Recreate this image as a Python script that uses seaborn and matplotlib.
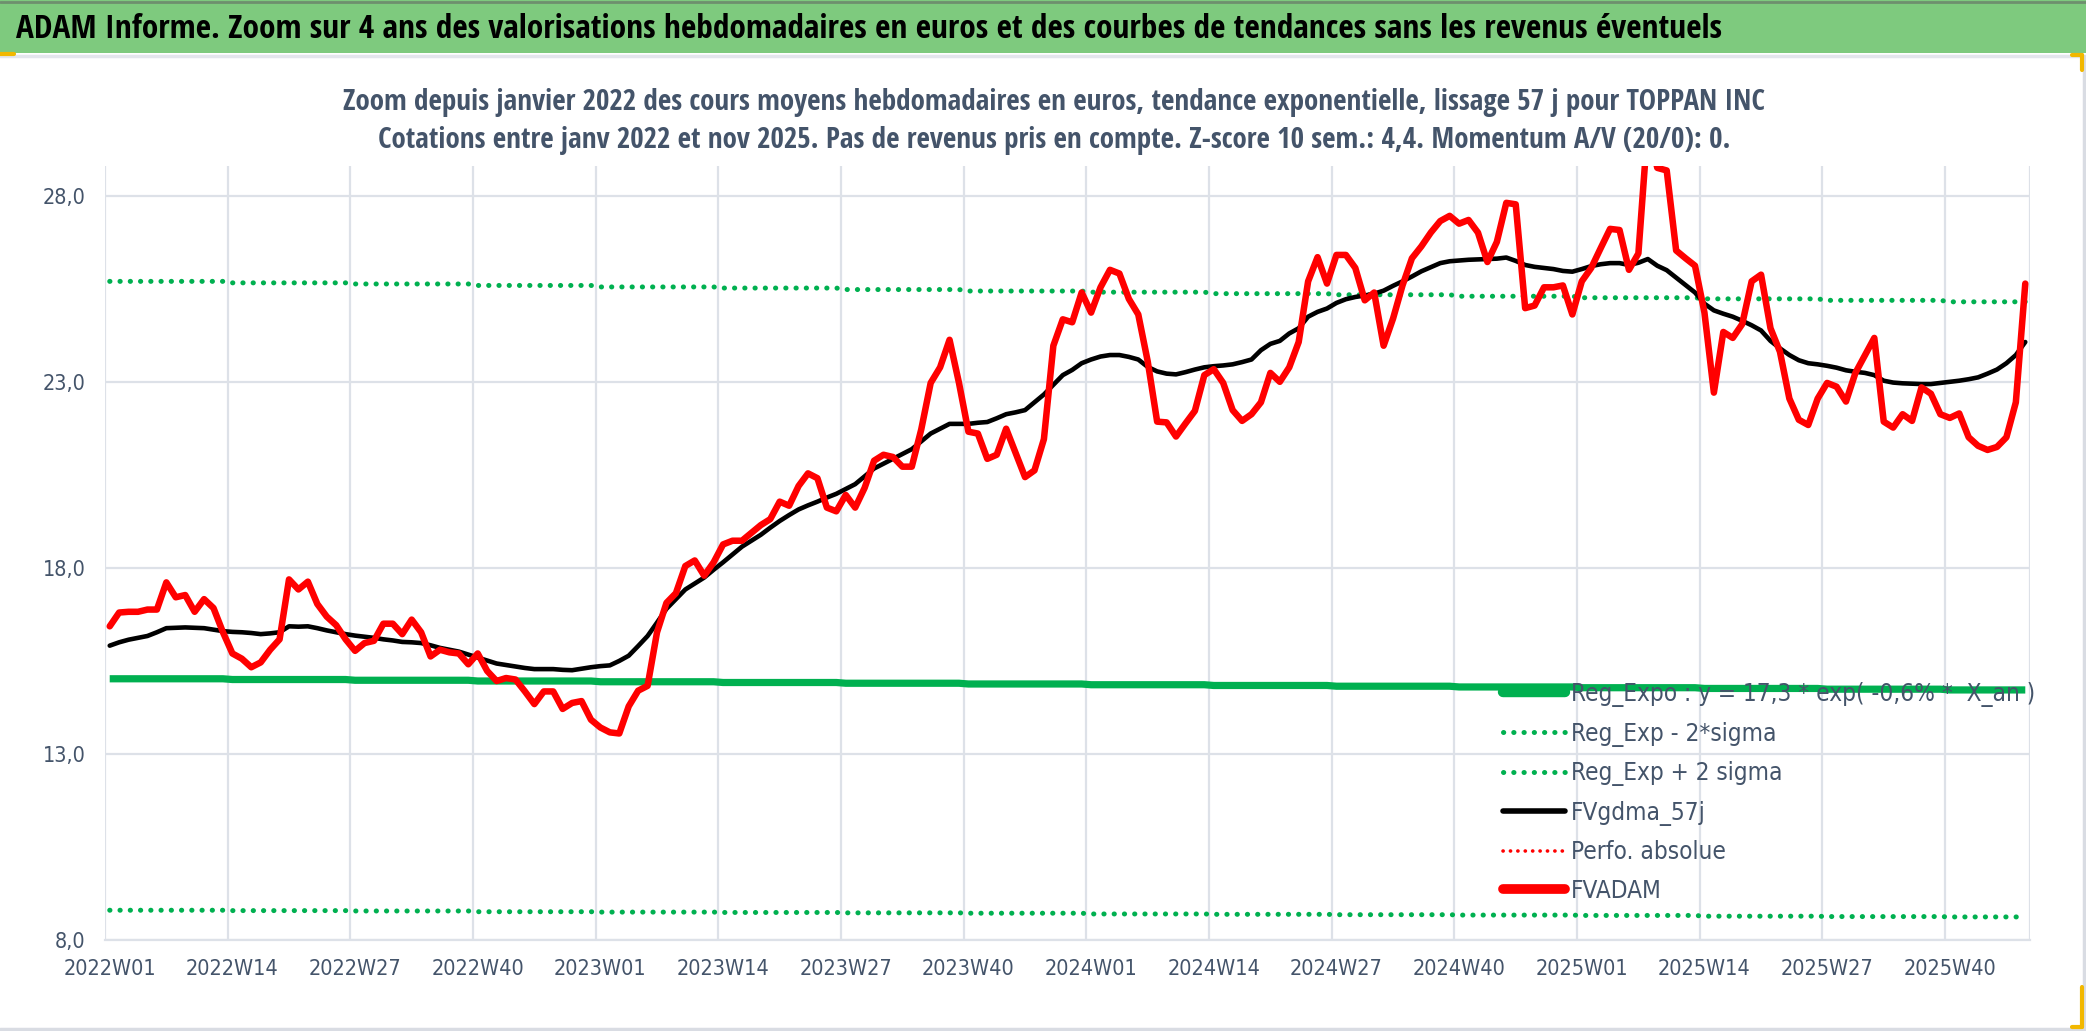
import numpy as np
import pandas as pd
import matplotlib
matplotlib.use("Agg")
import matplotlib.pyplot as plt
import matplotlib.font_manager as fm
from matplotlib.lines import Line2D
from matplotlib.patches import Rectangle
import seaborn as sns

# ---------------- data ----------------
years = [2022, 2023, 2024, 2025]
weeks_per_year = [52, 52, 52, 48]

fvadam = [
    16.43, 16.80, 16.82, 16.82, 16.88, 16.88, 17.61, 17.21, 17.27, 16.82,
    17.16, 16.92, 16.27, 15.70, 15.56, 15.33, 15.46, 15.80, 16.08, 17.69,
    17.42, 17.63, 17.03, 16.69, 16.46, 16.08, 15.77, 15.98, 16.04, 16.50,
    16.50, 16.22, 16.61, 16.27, 15.62, 15.80, 15.73, 15.70, 15.41, 15.70,
    15.23, 14.96, 15.04, 15.00, 14.68, 14.34, 14.68, 14.68, 14.21, 14.37,
    14.42, 13.92, 13.71, 13.58, 13.55, 14.28, 14.70, 14.83, 16.27, 17.06,
    17.32, 18.05, 18.20, 17.79, 18.15, 18.63, 18.73, 18.73, 18.94, 19.15,
    19.31, 19.78, 19.67, 20.20, 20.54, 20.41, 19.62, 19.52, 19.96, 19.62,
    20.15, 20.88, 21.04, 20.98, 20.72, 20.72, 21.72, 22.97, 23.39, 24.13,
    22.97, 21.66, 21.61, 20.93, 21.04, 21.74, 21.09, 20.44, 20.62, 21.46,
    23.97, 24.68, 24.60, 25.40, 24.86, 25.54, 26.01, 25.91, 25.23, 24.81,
    23.55, 21.93, 21.91, 21.53, 21.88, 22.22, 23.18, 23.34, 22.97, 22.24,
    21.95, 22.13, 22.45, 23.24, 23.00, 23.39, 24.07, 25.70, 26.35, 25.64,
    26.41, 26.41, 26.06, 25.19, 25.40, 23.97, 24.70, 25.59, 26.32, 26.64,
    27.01, 27.32, 27.46, 27.25, 27.35, 27.01, 26.22, 26.76, 27.81, 27.77,
    24.98, 25.05, 25.54, 25.54, 25.59, 24.81, 25.70, 26.06, 26.59, 27.11,
    27.08, 26.01, 26.45, 29.90, 28.75, 28.68, 26.53, 26.32, 26.12, 24.86,
    22.71, 24.34, 24.18, 24.55, 25.70, 25.88, 24.44, 23.81, 22.55, 21.98,
    21.84, 22.55, 22.97, 22.87, 22.47, 23.24, 23.71, 24.18, 21.93, 21.77,
    22.13, 21.95, 22.85, 22.68, 22.13, 22.03, 22.15, 21.51, 21.28, 21.17,
    21.25, 21.51, 22.45, 25.64,
]

fvgdma_57j = [
    15.91, 16.00, 16.07, 16.12, 16.17, 16.27, 16.38, 16.39, 16.40, 16.39,
    16.38, 16.34, 16.30, 16.28, 16.27, 16.25, 16.22, 16.24, 16.27, 16.43,
    16.42, 16.43, 16.38, 16.32, 16.27, 16.22, 16.18, 16.15, 16.12, 16.08,
    16.05, 16.01, 16.00, 15.98, 15.92, 15.85, 15.80, 15.75, 15.67, 15.59,
    15.51, 15.43, 15.39, 15.35, 15.31, 15.28, 15.28, 15.28, 15.26, 15.25,
    15.29, 15.33, 15.36, 15.38, 15.50, 15.64, 15.90, 16.17, 16.53, 16.90,
    17.16, 17.42, 17.58, 17.74, 17.95, 18.15, 18.36, 18.57, 18.73, 18.89,
    19.08, 19.26, 19.42, 19.57, 19.68, 19.78, 19.89, 19.99, 20.12, 20.25,
    20.46, 20.67, 20.80, 20.93, 21.06, 21.19, 21.40, 21.61, 21.74, 21.87,
    21.87, 21.87, 21.90, 21.92, 22.02, 22.13, 22.18, 22.24, 22.45, 22.66,
    22.92, 23.18, 23.32, 23.50, 23.60, 23.68, 23.72, 23.72, 23.67, 23.60,
    23.40, 23.28, 23.22, 23.20, 23.26, 23.33, 23.39, 23.42, 23.44, 23.47,
    23.53, 23.60, 23.85, 24.02, 24.10, 24.30, 24.44, 24.75, 24.88, 24.97,
    25.12, 25.22, 25.28, 25.32, 25.37, 25.45, 25.58, 25.70, 25.83, 25.97,
    26.08, 26.19, 26.24, 26.26, 26.28, 26.29, 26.30, 26.31, 26.34, 26.25,
    26.14, 26.09, 26.06, 26.03, 25.98, 25.96, 26.03, 26.11, 26.16, 26.19,
    26.19, 26.14, 26.20, 26.30, 26.12, 26.00, 25.80, 25.60, 25.40, 25.10,
    24.92, 24.83, 24.75, 24.64, 24.52, 24.38, 24.10, 23.90, 23.72, 23.58,
    23.50, 23.47, 23.43, 23.38, 23.31, 23.27, 23.24, 23.18, 23.03, 22.98,
    22.96, 22.95, 22.94, 22.94, 22.97, 23.00, 23.03, 23.07, 23.12, 23.22,
    23.33, 23.50, 23.72, 24.07,
]

reg_expo = ([15.02] * 13 + [15.00] * 13 + [14.98] * 13 + [14.96] * 13 +
            [14.94] * 13 + [14.92] * 13 + [14.90] * 13 + [14.88] * 13 +
            [14.86] * 13 + [14.84] * 13 + [14.82] * 13 + [14.80] * 13 +
            [14.78] * 13 + [14.76] * 13 + [14.74] * 13 + [14.72] * 9)

reg_plus_2sigma = ([25.70] * 13 + [25.66] * 13 + [25.63] * 13 + [25.59] * 13 +
                   [25.55] * 13 + [25.52] * 13 + [25.48] * 13 + [25.44] * 13 +
                   [25.41] * 13 + [25.37] * 13 + [25.34] * 13 + [25.30] * 13 +
                   [25.26] * 13 + [25.23] * 13 + [25.19] * 13 + [25.15] * 9)

reg_minus_2sigma = ([8.80] * 13 + [8.79] * 13 + [8.78] * 13 + [8.76] * 13 +
                    [8.75] * 13 + [8.74] * 13 + [8.73] * 13 + [8.72] * 13 +
                    [8.70] * 13 + [8.69] * 13 + [8.68] * 13 + [8.67] * 13 +
                    [8.66] * 13 + [8.64] * 13 + [8.63] * 13 + [8.62] * 9)

perfo_absolue = []  # not visible in the reference

y_ticks = [8.0, 13.0, 18.0, 23.0, 28.0]
y_min, y_max = 8.0, 28.8

title_text = ("ADAM Informe. Zoom sur 4 ans des valorisations hebdomadaires en euros "
              "et des courbes de tendances sans les revenus éventuels")
subtitle_1 = ("Zoom depuis janvier 2022 des cours moyens hebdomadaires en euros, "
              "tendance exponentielle, lissage 57 j pour TOPPAN INC")
subtitle_2 = ("Cotations entre janv 2022 et nov 2025. Pas de revenus pris en compte. "
              "Z-score 10 sem.: 4,4. Momentum A/V (20/0): 0.")
legend_labels = ["Reg_Expo : y = 17,3 * exp( -0,6% *  X_an )", "Reg_Exp - 2*sigma",
                 "Reg_Exp + 2 sigma", "FVgdma_57j", "Perfo. absolue", "FVADAM"]

weeks = [f"{y}W{w:02d}" for y, n in zip(years, weeks_per_year) for w in range(1, n + 1)]

df = pd.DataFrame({
    "week": weeks,
    "idx": np.arange(len(weeks)),
    "fvadam": fvadam,
    "fvgdma": fvgdma_57j,
    "reg": reg_expo,
    "plus": reg_plus_2sigma,
    "minus": reg_minus_2sigma,
})

# ---------------- fonts ----------------
sns.set_theme(style="white")
plt.rcParams["font.family"] = ["DejaVu Sans"]

PRIO = ["Liberation Sans Narrow", "Noto Sans", "Open Sans Condensed", "Open Sans",
        "DejaVu Sans", "Roboto Condensed"]


def _w(f):
    w = f.weight
    if isinstance(w, str):
        w = fm.weight_dict.get(w, 400)
    return int(w)


def find_condensed(target):
    best, best_score = None, None
    for f in fm.fontManager.ttflist:
        name = f.name
        cond = ("Narrow" in name or "Condensed" in name or
                str(f.stretch) in ("condensed", "semi-condensed", "extra-condensed"))
        if not cond or f.style != "normal":
            continue
        pr = PRIO.index(name) if name in PRIO else len(PRIO)
        score = abs(_w(f) - target) + 40 * pr
        if best_score is None or score < best_score:
            best, best_score = f, score
    if best is None:
        return fm.FontProperties(family=["Liberation Sans", "DejaVu Sans"],
                                 weight="bold" if target >= 600 else "normal")
    return fm.FontProperties(fname=best.fname)


def fp(base, size):
    p = base.copy()
    p.set_size(size)
    return p


FONT_REG = find_condensed(400)
FONT_BOLD = find_condensed(700)

W, H, DPI = 2086, 1031, 100
fig = plt.figure(figsize=(W / DPI, H / DPI), dpi=DPI)
fig.patch.set_facecolor("white")

# header band and frame
fig.add_artist(Rectangle((0, 1 - 53 / H), 1, 53 / H, transform=fig.transFigure,
                         facecolor="#7ECA7E", edgecolor="none", zorder=0))
fig.add_artist(Line2D([0, 1], [1 - 1.5 / H, 1 - 1.5 / H], transform=fig.transFigure,
                      color="#6E8F6E", lw=2))
fig.add_artist(Line2D([0, 1], [1 - 56 / H, 1 - 56 / H], transform=fig.transFigure,
                      color="#E3E6EC", lw=2.5))
fig.add_artist(Line2D([0, 1], [2 / H, 2 / H], transform=fig.transFigure,
                      color="#D9DCE3", lw=2.5))
fig.add_artist(Line2D([1 - 2 / W, 1 - 2 / W], [0, 1 - 56 / H], transform=fig.transFigure,
                      color="#D9DCE3", lw=2.5))
# small yellow selection marks
fig.add_artist(Line2D([0, 14 / W], [1 - 54 / H, 1 - 54 / H], transform=fig.transFigure,
                      color="#F2B800", lw=3))
fig.add_artist(Line2D([1 - 4 / W, 1 - 4 / W], [4 / H, 44 / H], transform=fig.transFigure,
                      color="#F2B800", lw=3))
fig.add_artist(Line2D([1 - 14 / W, 1 - 4 / W], [4 / H, 4 / H], transform=fig.transFigure,
                      color="#F2B800", lw=3))
fig.add_artist(Line2D([1 - 4 / W, 1 - 4 / W], [1 - 55 / H, 1 - 70 / H],
                      transform=fig.transFigure, color="#F2B800", lw=3))
fig.add_artist(Line2D([1 - 14 / W, 1 - 4 / W], [1 - 55 / H, 1 - 55 / H],
                      transform=fig.transFigure, color="#F2B800", lw=3))

fig.text(16 / W, 1 - 38 / H, title_text, fontproperties=fp(FONT_BOLD, 24),
         color="black", ha="left", va="baseline")
fig.text(1054 / W, 1 - 110 / H, subtitle_1, fontproperties=fp(FONT_BOLD, 21),
         color="#44546A", ha="center", va="baseline")
fig.text(1054 / W, 1 - 148 / H, subtitle_2, fontproperties=fp(FONT_BOLD, 21),
         color="#44546A", ha="center", va="baseline")

left, right, top, bottom = 105, 2030, 166, 940
ax = fig.add_axes([left / W, 1 - bottom / H, (right - left) / W, (bottom - top) / H])
ax.set_facecolor("white")

green = "#00B050"
dot = (0, (0.05, 2.0))

sns.lineplot(data=df, x="idx", y="reg", ax=ax, color=green, lw=5.2,
             solid_capstyle="butt", zorder=3, legend=False)
sns.lineplot(data=df, x="idx", y="minus", ax=ax, color=green, lw=3.6,
             linestyle=dot, dash_capstyle="round", zorder=3, legend=False)
sns.lineplot(data=df, x="idx", y="plus", ax=ax, color=green, lw=3.6,
             linestyle=dot, dash_capstyle="round", zorder=3, legend=False)
sns.lineplot(data=df, x="idx", y="fvgdma", ax=ax, color="black", lw=3.3,
             zorder=4, legend=False)
perfo_line, = ax.plot(range(len(perfo_absolue)), perfo_absolue, color="#FF0000",
                      lw=2.6, linestyle=dot, dash_capstyle="round")
sns.lineplot(data=df, x="idx", y="fvadam", ax=ax, color="#FF0000", lw=4.7,
             zorder=5, legend=False)

n = len(weeks)
ax.set_xlim(-0.5, n - 0.5)
ax.set_ylim(y_min, y_max)
ax.set_xlabel("")
ax.set_ylabel("")

label_pos = list(range(0, n, 13))
ax.set_xticks(label_pos)
ax.set_xticklabels([weeks[i] for i in label_pos])
ax.set_xticks([p - 0.5 for p in label_pos] + [n - 0.5], minor=True)
ax.set_yticks(y_ticks)
ax.set_yticklabels([f"{v:.1f}".replace(".", ",") for v in y_ticks])

tick_color = "#44546A"
for lbl in ax.get_xticklabels() + ax.get_yticklabels():
    lbl.set_fontproperties(fp(FONT_REG, 15.5))
    lbl.set_color(tick_color)

grid_c = "#DDE1E8"
ax.grid(False)
ax.xaxis.grid(True, which="minor", color=grid_c, lw=1.6)
ax.yaxis.grid(True, which="major", color=grid_c, lw=1.6)
ax.set_axisbelow(True)
ax.tick_params(axis="x", which="major", length=0, pad=14)
ax.tick_params(axis="x", which="minor", length=6, color=grid_c, width=1.6)
ax.tick_params(axis="y", which="major", length=0, pad=14)
for s in ax.spines.values():
    s.set_visible(False)
ax.spines["bottom"].set_visible(True)
ax.spines["bottom"].set_color(grid_c)
ax.spines["bottom"].set_linewidth(1.6)

handles = [
    Line2D([], [], color=green, lw=7.5, solid_capstyle="round"),
    Line2D([], [], color=green, lw=3.6, linestyle=dot, dash_capstyle="round"),
    Line2D([], [], color=green, lw=3.6, linestyle=dot, dash_capstyle="round"),
    Line2D([], [], color="black", lw=4.0, solid_capstyle="round"),
    Line2D([], [], color="#FF0000", lw=2.6, linestyle=dot, dash_capstyle="round"),
    Line2D([], [], color="#FF0000", lw=7.0, solid_capstyle="round"),
]
leg = fig.legend(handles, legend_labels, loc="upper left",
                 bbox_to_anchor=(1503 / W, 1 - 682 / H), bbox_transform=fig.transFigure,
                 frameon=False, prop=fp(FONT_REG, 17.5), handlelength=2.55,
                 handletextpad=0.25, labelspacing=0.60, borderpad=0, borderaxespad=0)
for t in leg.get_texts():
    t.set_color(tick_color)
leg.set_zorder(10)

fig.savefig("out.png", dpi=DPI, facecolor="white")
